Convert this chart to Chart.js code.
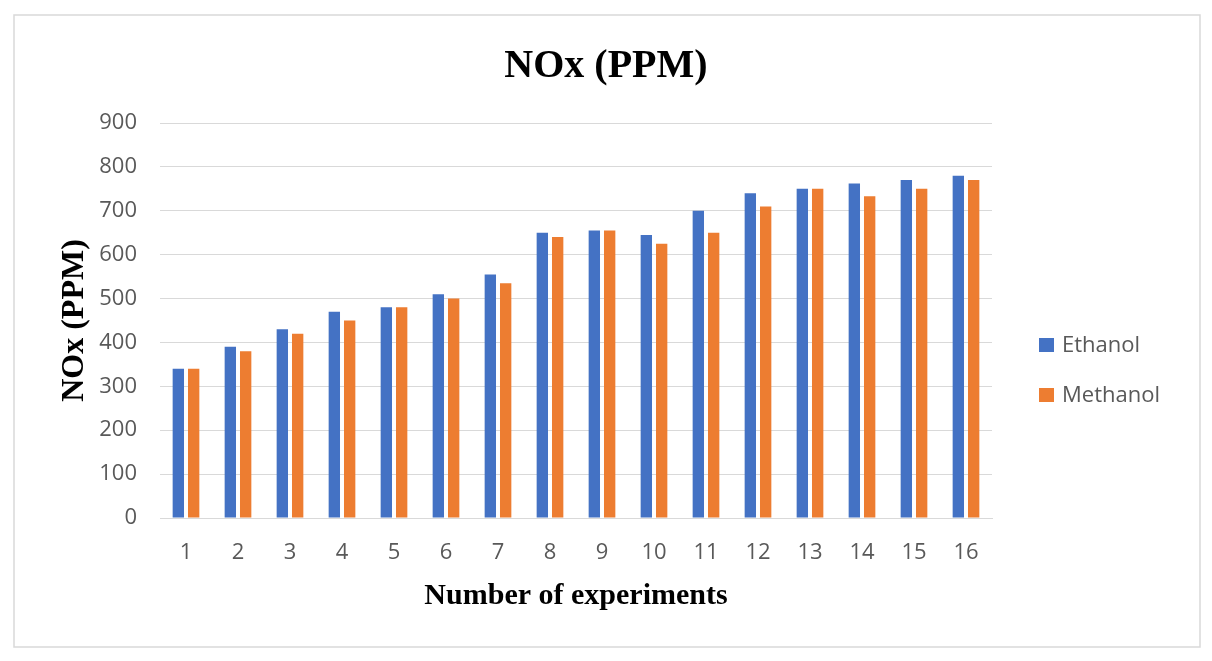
<!DOCTYPE html>
<html>
<head>
<meta charset="utf-8">
<script src="https://cdn.jsdelivr.net/npm/chart.js@4/dist/chart.umd.min.js"></script>
<style>
  html, body { margin: 0; padding: 0; background: #fff; }
  #wrap { position: relative; width: 1212px; height: 661px; }
</style>
</head>
<body>
<div id="wrap"><canvas id="c" width="1212" height="661"></canvas></div>
<script>
const categories = ['1','2','3','4','5','6','7','8','9','10','11','12','13','14','15','16'];
const ethanol  = [340, 390, 430, 470, 480, 510, 555, 650, 655, 645, 700, 740, 750, 762, 770, 780];
const methanol = [340, 380, 420, 450, 480, 500, 535, 640, 655, 625, 650, 710, 750, 733, 750, 770];
const yTicks = { min: 0, max: 900, step: 100 };
const seriesNames = ['Ethanol', 'Methanol'];
const seriesColors = ['#4472C4', '#ED7D31'];

const frame = {
  id: 'frame',
  beforeDraw(chart) {
    const ctx = chart.ctx;
    ctx.save();
    ctx.fillStyle = '#ffffff';
    ctx.fillRect(0, 0, chart.width, chart.height);
    ctx.strokeStyle = '#d9d9d9';
    ctx.lineWidth = 1.5;
    ctx.strokeRect(14, 15, 1186, 632);
    ctx.restore();
  }
};

const sideLegend = {
  id: 'sideLegend',
  afterDraw(chart) {
    const ctx = chart.ctx;
    ctx.save();
    ctx.font = '22px "Open Sans"';
    ctx.textBaseline = 'middle';
    ctx.textAlign = 'left';
    chart.data.datasets.forEach((ds, i) => {
      const cy = 345 + i * 50;
      ctx.fillStyle = ds.backgroundColor;
      ctx.fillRect(1039, cy - 7, 15, 14);
      ctx.fillStyle = '#595959';
      ctx.fillText(ds.label, 1062, cy + 1);
    });
    ctx.restore();
  }
};

new Chart(document.getElementById('c'), {
  type: 'bar',
  data: {
    labels: categories,
    datasets: [
      { label: seriesNames[0], data: ethanol, backgroundColor: seriesColors[0], categoryPercentage: 0.59, barPercentage: 0.74 },
      { label: seriesNames[1], data: methanol, backgroundColor: seriesColors[1], categoryPercentage: 0.59, barPercentage: 0.74 }
    ]
  },
  options: {
    responsive: false,
    animation: false,
    devicePixelRatio: 1,
    layout: { padding: 0 },
    plugins: {
      legend: { display: false },
      tooltip: { enabled: false },
      title: {
        display: true,
        text: 'NOx (PPM)',
        color: '#000000',
        font: { family: '"Liberation Serif", "Times New Roman", serif', size: 40, weight: 'bold', lineHeight: 1.2 },
        padding: { top: 43, bottom: 32 }
      }
    },
    scales: {
      x: {
        grid: { display: false, drawTicks: false },
        border: { display: true, color: '#d9d9d9', width: 1 },
        ticks: { color: '#595959', font: { family: '"Open Sans"', size: 22 }, padding: 22, maxRotation: 0, autoSkip: false },
        title: {
          display: true,
          text: 'Number of experiments',
          color: '#000000',
          font: { family: '"Liberation Serif", "Times New Roman", serif', size: 30, weight: 'bold', lineHeight: 1.2 },
          padding: { top: 0, bottom: 47 }
        },
        afterFit(s) { s.height = 143; }
      },
      y: {
        min: yTicks.min,
        max: yTicks.max,
        grid: { color: '#d9d9d9', lineWidth: 1, drawTicks: false },
        border: { display: false },
        ticks: { stepSize: yTicks.step, color: '#595959', font: { family: '"Open Sans"', size: 22 }, padding: 23 },
        title: {
          display: true,
          text: 'NOx (PPM)',
          color: '#000000',
          font: { family: '"Liberation Serif", "Times New Roman", serif', size: 32, weight: 'bold', lineHeight: 1.2 },
          padding: { top: 56, bottom: 0 }
        },
        afterFit(s) { s.width = 160; }
      },
      yRight: {
        position: 'right',
        display: true,
        grid: { display: false, drawTicks: false },
        border: { display: false },
        ticks: { display: false },
        afterFit(s) { s.width = 220; }
      }
    }
  },
  plugins: [frame, sideLegend]
});
</script>
</body>
</html>
